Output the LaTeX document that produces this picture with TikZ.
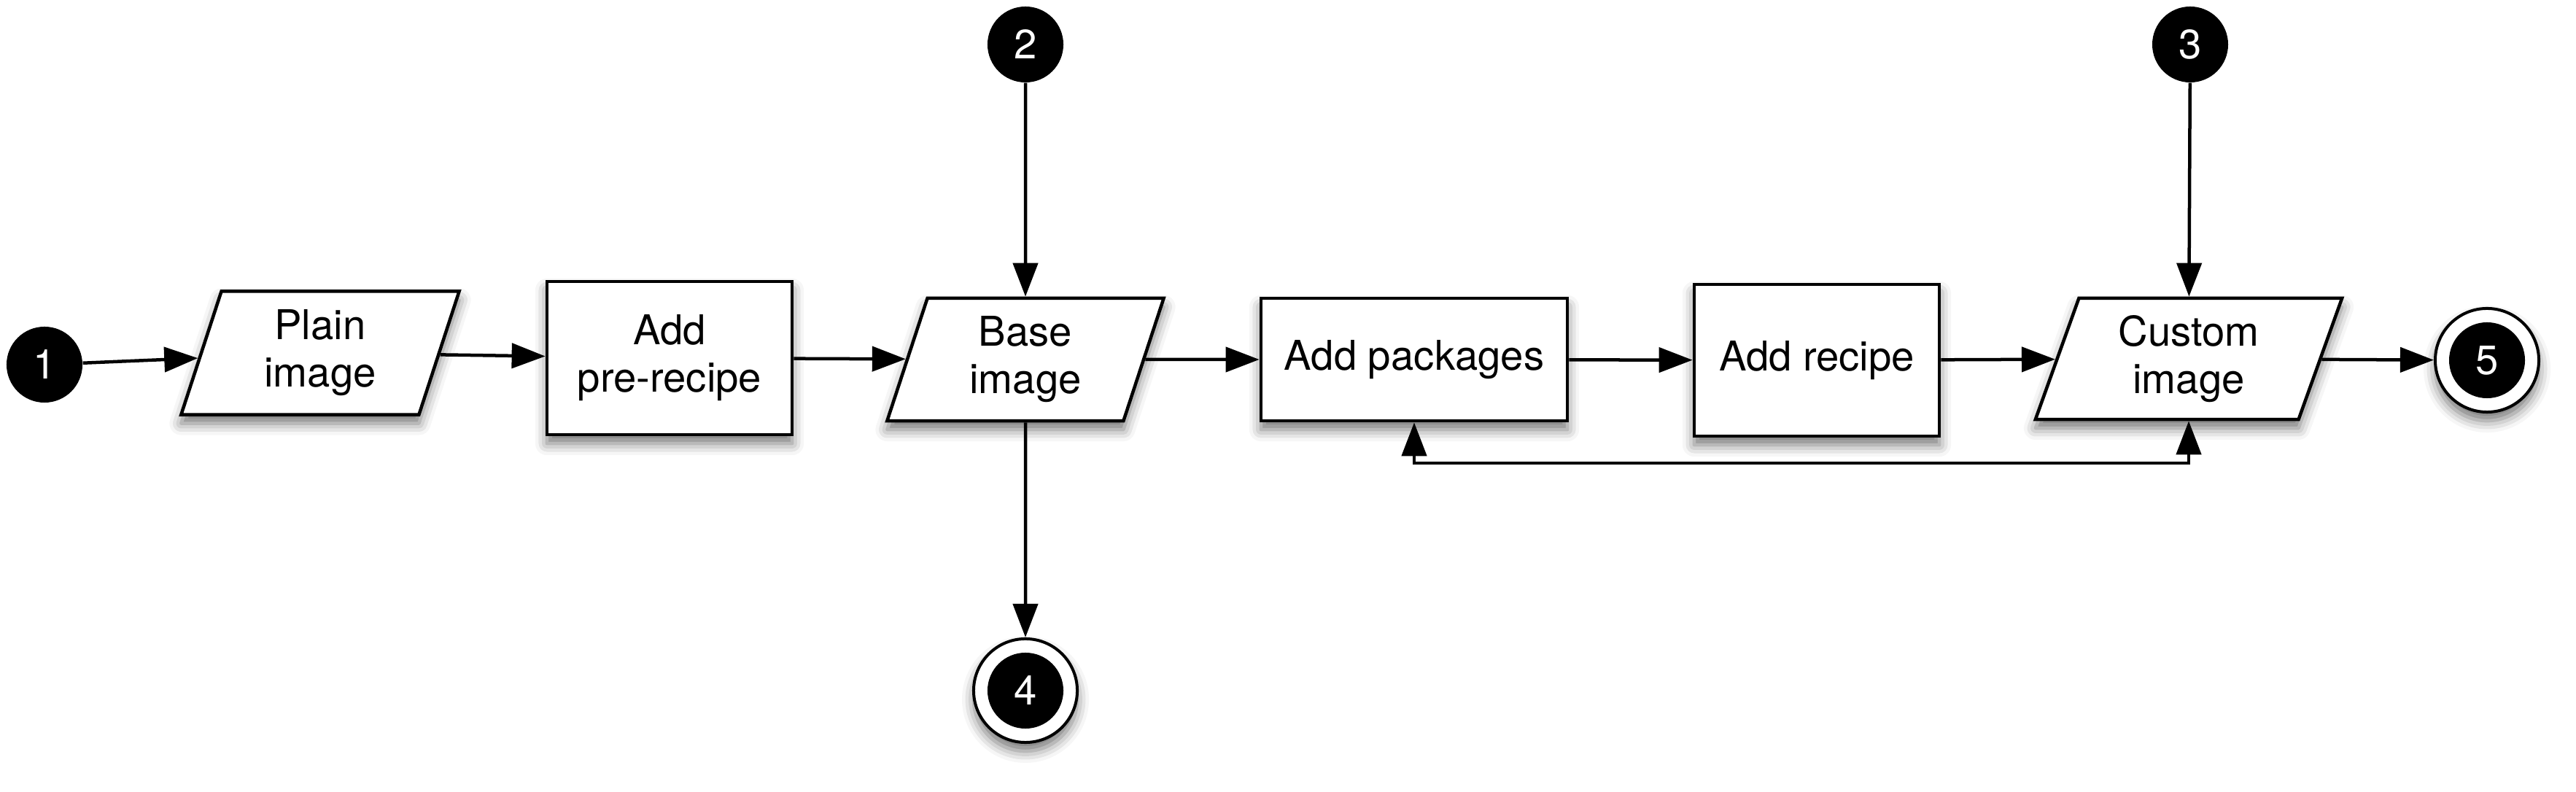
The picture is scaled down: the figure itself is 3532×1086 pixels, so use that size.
\documentclass[tikz,border=0pt]{standalone}
\usepackage{fontspec}
\setmainfont{TeX Gyre Heros}
\usetikzlibrary{arrows.meta,shapes.geometric,shadows.blur}
\begin{document}
\begin{tikzpicture}[x=0.01cm,y=-0.01cm,
  txt/.style={font=\fontsize{16}{18.5}\selectfont, align=center, text=black},
  shade/.style={blur shadow={shadow xshift=0cm, shadow yshift=-0.12cm, shadow blur radius=0.16cm, shadow opacity=55}},
  stepbox/.style={txt, shade, draw=black, fill=white, line width=0.045cm, rectangle, inner sep=0pt},
  iobox/.style={txt, shade, draw=black, fill=white, line width=0.045cm, trapezium, trapezium left angle=65, trapezium right angle=115, trapezium stretches body, inner sep=0pt},
  startc/.style={circle, fill=black, minimum size=1.04cm, inner sep=0pt, text=white, font=\fontsize{16}{18.5}\selectfont},
  endc/.style={circle, shade, draw=black, fill=white, line width=0.04cm, minimum size=1.42cm, inner sep=0pt, text=white, font=\fontsize{16}{18.5}\selectfont,
    path picture={\fill[black] (path picture bounding box.center) circle (0.52cm);}},
  conn/.style={line width=0.045cm, -{Triangle[length=0.46cm,width=0.34cm]}},
  biconn/.style={line width=0.045cm, {Triangle[length=0.46cm,width=0.34cm]}-{Triangle[length=0.46cm,width=0.34cm]}}
]
\useasboundingbox (0,0) rectangle (3532,1086);

\node[startc] (c1) at (61,500) {1};
\node[startc] (c2) at (1406,61) {2};
\node[startc] (c3) at (3003,61) {3};

\node[iobox, minimum width=3.81cm, minimum height=1.69cm] (plain) at (439,484) {Plain\\image};
\node[stepbox, minimum width=3.36cm, minimum height=2.10cm] (pre) at (918,491) {Add\\pre-recipe};
\node[iobox, minimum width=3.79cm, minimum height=1.68cm] (base) at (1406,493) {Base\\image};
\node[stepbox, minimum width=4.20cm, minimum height=1.68cm] (addpk) at (1939,493) {Add packages};
\node[stepbox, minimum width=3.36cm, minimum height=2.08cm] (addrec) at (2491,494) {Add recipe};
\node[iobox, trapezium left angle=63.5, trapezium right angle=116.5, minimum width=4.20cm, minimum height=1.66cm] (custom) at (3001,492) {Custom\\image};

\node[endc] (c4) at (1406,947) {4};
\node[endc] (c5) at (3410,494) {5};

\coordinate (fb) at (1939,635);

\draw[conn] (c1) -- (plain);
\draw[conn] (plain) -- (pre);
\draw[conn] (pre) -- (base);
\draw[conn] (base) -- (addpk);
\draw[conn] (addpk) -- (addrec);
\draw[conn] (addrec) -- (custom);
\draw[conn] (custom) -- (c5);
\draw[conn] (c2) -- (base);
\draw[conn] (c3) -- (custom);
\draw[conn] (base) -- (c4);
\draw[biconn] (addpk.south) -- (fb) -| (custom.center |- custom.south);
\end{tikzpicture}
\end{document}
